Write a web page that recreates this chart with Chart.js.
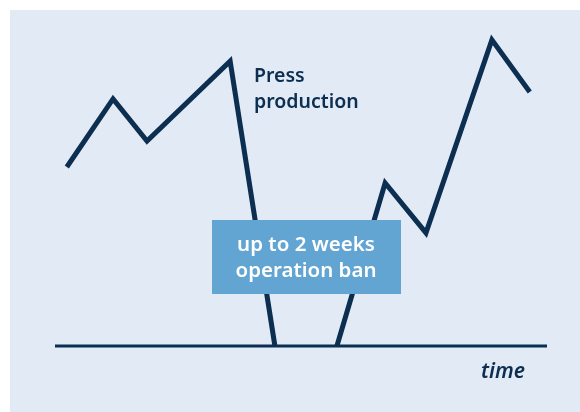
<!DOCTYPE html>
<html>
<head>
<meta charset="utf-8">
<script src="https://cdn.jsdelivr.net/npm/chart.js@4"></script>
<style>
  body { margin: 0; background: #ffffff; }
  #wrap { width: 580px; height: 412px; position: relative; }
</style>
</head>
<body>
<div id="wrap"><canvas id="pressChart"></canvas></div>
<script>
// time axis (0-100) and press output (0-100)
const timePoints = [2.4, 11.8, 18.7, 35.6, 44.7, 57.3, 67.1, 75.4, 88.8, 96.5];
const production = [54.9, 75.8, 62.9, 87.4, 0, 0, 50.0, 34.7, 93.9, 77.9];
const axisStart = 0;
const axisEnd = 100;
const seriesLabel = "Press production";
const banLabel = ["up to 2 weeks", "operation ban"];
const axisLabel = "time";

const navy = "#0b2e51";
const panelBg = "#e2eaf5";
const boxBlue = "#62a4d2";

const decorations = {
  id: "decorations",
  beforeDraw(chart) {
    const ctx = chart.ctx;
    ctx.save();
    ctx.fillStyle = panelBg;
    ctx.fillRect(10, 10, 570, 402);
    ctx.restore();
  },
  afterDraw(chart) {
    const ctx = chart.ctx;
    ctx.save();
    // series label
    ctx.fillStyle = navy;
    ctx.font = "600 19.5px 'Noto Sans'";
    ctx.textAlign = "left";
    ctx.textBaseline = "middle";
    ctx.fillText("Press", 254, 76);
    ctx.fillText("production", 254, 102);

    // operation ban box
    ctx.fillStyle = boxBlue;
    ctx.fillRect(212, 220, 189, 74);
    ctx.fillStyle = "#ffffff";
    ctx.textAlign = "center";
    ctx.font = "600 20.5px 'Noto Sans'";
    ctx.fillText(banLabel[0], 306, 245);
    ctx.fillText(banLabel[1], 306, 271);

    // axis label
    ctx.fillStyle = navy;
    ctx.font = "italic 600 21px 'Noto Sans'";
    ctx.textAlign = "right";
    ctx.fillText(axisLabel, 525, 372);
    ctx.restore();
  }
};

new Chart(document.getElementById("pressChart"), {
  type: "line",
  data: {
    datasets: [
      {
        label: "baseline",
        data: [{ x: axisStart, y: 0 }, { x: axisEnd, y: 0 }],
        borderColor: navy,
        borderWidth: 3,
        pointRadius: 0,
        clip: false
      },
      {
        label: seriesLabel,
        data: timePoints.map((t, i) => ({ x: t, y: production[i] })),
        borderColor: navy,
        borderWidth: 5,
        borderJoinStyle: "miter",
        borderCapStyle: "butt",
        pointRadius: 0,
        tension: 0,
        clip: false,
        // no thick stroke while production sits at zero (the ban)
        segment: {
          borderColor: ctx => (ctx.p0.parsed.y === 0 && ctx.p1.parsed.y === 0) ? "rgba(0,0,0,0)" : undefined
        }
      }
    ]
  },
  options: {
    responsive: true,
    maintainAspectRatio: false,
    animation: false,
    layout: { padding: { left: 55, right: 33, top: 20, bottom: 66 } },
    plugins: { legend: { display: false }, tooltip: { enabled: false } },
    scales: {
      x: { type: "linear", min: axisStart, max: axisEnd, display: false },
      y: { min: 0, max: 100, display: false }
    }
  },
  plugins: [decorations]
});
</script>
</body>
</html>
